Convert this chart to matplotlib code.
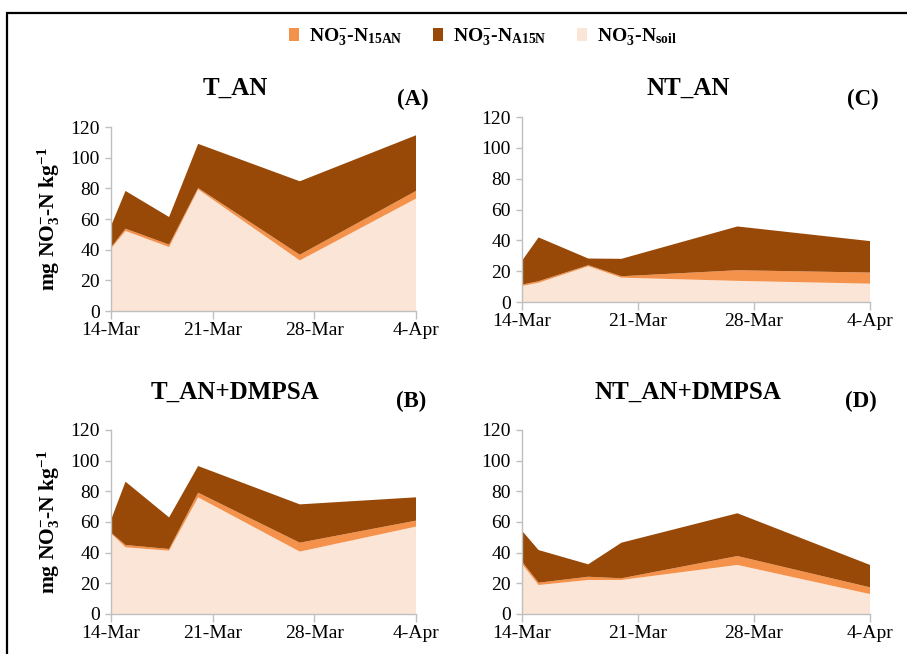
import numpy as np
import matplotlib
matplotlib.use("Agg")
import matplotlib.pyplot as plt
from matplotlib.patches import Rectangle, Patch

plt.rcParams["font.family"] = ["Liberation Serif", "DejaVu Serif"]
plt.rcParams["mathtext.fontset"] = "custom"
plt.rcParams["mathtext.rm"] = "Liberation Serif:bold"
plt.rcParams["mathtext.it"] = "Liberation Serif:bold:italic"
plt.rcParams["mathtext.bf"] = "Liberation Serif:bold"

# Sampling dates
sample_dates = np.array(["2016-03-14", "2016-03-15", "2016-03-18", "2016-03-20",
                         "2016-03-27", "2016-04-04"], dtype="datetime64[D]")
tick_dates = np.array(["2016-03-14", "2016-03-21", "2016-03-28", "2016-04-04"],
                      dtype="datetime64[D]")
tick_labels = ["14-Mar", "21-Mar", "28-Mar", "4-Apr"]

series_labels = [r"NO$_3^{-}$-N$_{\mathrm{15AN}}$",
                 r"NO$_3^{-}$-N$_{\mathrm{A15N}}$",
                 r"NO$_3^{-}$-N$_{\mathrm{soil}}$"]

# mg NO3--N kg-1 per treatment: soil-derived, 15AN-derived, A15N-derived
t_an_soil = [40.7, 52.2, 41.7, 79.3, 33.0, 73.3]
t_an_15an = [0.8, 1.5, 1.6, 0.9, 3.7, 5.0]
t_an_a15n = [13.9, 24.6, 18.0, 28.8, 47.9, 36.3]

t_dmpsa_soil = [52.6, 43.5, 41.3, 76.1, 40.7, 57.0]
t_dmpsa_15an = [0.4, 1.5, 1.1, 3.0, 5.8, 3.9]
t_dmpsa_a15n = [8.3, 41.3, 20.6, 17.4, 25.0, 15.2]

nt_an_soil = [10.4, 12.5, 23.2, 15.8, 13.7, 11.9]
nt_an_15an = [0.9, 1.0, 0.7, 0.9, 6.9, 7.2]
nt_an_a15n = [15.4, 28.4, 4.3, 11.3, 28.4, 20.4]

nt_dmpsa_soil = [32.6, 18.9, 22.2, 22.2, 32.0, 13.0]
nt_dmpsa_15an = [1.5, 1.5, 2.1, 1.1, 5.8, 4.4]
nt_dmpsa_a15n = [20.2, 21.3, 8.1, 23.2, 27.9, 14.6]

panel_titles = ["T_AN", "NT_AN", "T_AN+DMPSA", "NT_AN+DMPSA"]
panel_letters = ["(A)", "(C)", "(B)", "(D)"]

c_soil = "#FBE5D6"
c_15an = "#F4914A"
c_a15n = "#984807"
axis_grey = "#BFBFBF"

days = (sample_dates - sample_dates[0]).astype(int)
tick_days = (tick_dates - sample_dates[0]).astype(int)

fig = plt.figure(figsize=(9.07, 6.54), dpi=100)
W, H = 907, 654


def px_axes(x0, x1, y_top, y_bot):
    return fig.add_axes([x0 / W, 1 - y_bot / H, (x1 - x0) / W, (y_bot - y_top) / H])


panels = [
    (px_axes(111, 416, 127, 311), t_an_soil, t_an_15an, t_an_a15n, True),
    (px_axes(522, 870, 117, 302), nt_an_soil, nt_an_15an, nt_an_a15n, False),
    (px_axes(111, 416, 430, 614), t_dmpsa_soil, t_dmpsa_15an, t_dmpsa_a15n, True),
    (px_axes(522, 870, 430, 614), nt_dmpsa_soil, nt_dmpsa_15an, nt_dmpsa_a15n, False),
]

for ax, soil, n15, a15, show_ylabel in panels:
    ax.stackplot(days, soil, n15, a15, colors=[c_soil, c_15an, c_a15n],
                 linewidth=0)
    ax.set_xlim(tick_days[0], tick_days[-1])
    ax.set_ylim(0, 120)
    ax.set_yticks(np.arange(0, 121, 20))
    ax.set_xticks(tick_days)
    ax.set_xticklabels(tick_labels)
    for s in ("top", "right"):
        ax.spines[s].set_visible(False)
    for s in ("left", "bottom"):
        ax.spines[s].set_color(axis_grey)
        ax.spines[s].set_linewidth(1.0)
    ax.tick_params(axis="x", colors=axis_grey, length=6, width=1.0,
                   labelcolor="black", labelsize=14, pad=2)
    ax.tick_params(axis="y", colors=axis_grey, length=4, width=1.0,
                   labelcolor="black", labelsize=14, pad=4)
    if show_ylabel:
        ax.set_ylabel(r"mg NO$_3^{-}$-N kg$^{-1}$", fontsize=15.5,
                      fontweight="bold", labelpad=6)

# Panel titles and letters
title_pos = [(235, 88), (688, 88), (235, 392), (688, 392)]
letter_pos = [(413, 99), (863, 99), (411, 401), (861, 401)]
for t, (x, y) in zip(panel_titles, title_pos):
    fig.text(x / W, 1 - y / H, t, ha="center", va="center",
             fontsize=18, fontweight="bold")
for t, (x, y) in zip(panel_letters, letter_pos):
    fig.text(x / W, 1 - y / H, t, ha="center", va="center",
             fontsize=16.5, fontweight="bold")

# Legend
handles = [Patch(facecolor=c_15an), Patch(facecolor=c_a15n), Patch(facecolor=c_soil)]
fig.legend(handles, series_labels, loc="center", bbox_to_anchor=(483 / W, 1 - 37 / H),
           ncol=3, frameon=False, prop={"size": 14, "weight": "bold"},
           handlelength=0.5, handleheight=0.6,
           handletextpad=0.5, columnspacing=1.6)

# Outer frame
fig.patches.append(Rectangle((7 / W, -0.1), 1.2, 1 - 13 / H + 0.1,
                             transform=fig.transFigure, fill=False,
                             edgecolor="black", linewidth=1.6))

fig.savefig("out.png", dpi=100)
